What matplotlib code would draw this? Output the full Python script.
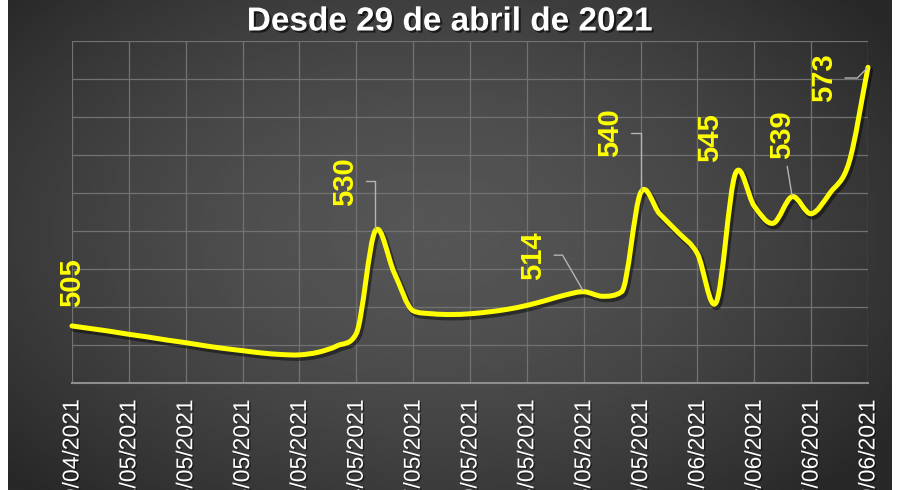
import numpy as np
import pandas as pd
import matplotlib
matplotlib.use('Agg')
import matplotlib.pyplot as plt
import matplotlib.dates as mdates
import matplotlib.patheffects as pe
from matplotlib.path import Path
from matplotlib.patches import PathPatch
from matplotlib.transforms import ScaledTranslation

plt.rcParams['font.family'] = ['Liberation Sans', 'DejaVu Sans']

# daily values, 29/04/2021 .. 10/06/2021
fechas = pd.date_range('2021-04-29', '2021-06-10', freq='D')
precio = [505, 504.3, 503.6, 502.8, 502.1, 501.3, 500.6, 499.8, 499.1, 498.5,
          497.9, 497.5, 497.4, 498.1, 499.8, 503, 530, 519, 509, 508.2,
          508, 508.2, 508.7, 509.4, 510.4, 511.7, 513.1, 514, 512.8, 514,
          540, 534.5, 529.5, 524, 511.3, 545, 536.5, 532, 539, 534.5,
          540, 548, 573]

# labelled points
fechas_etiq = ['2021-04-29', '2021-05-15', '2021-05-26', '2021-05-29',
               '2021-06-03', '2021-06-06', '2021-06-10']

ticks_x = ['2021-04-29', '2021-05-02', '2021-05-05', '2021-05-08', '2021-05-11',
           '2021-05-14', '2021-05-17', '2021-05-20', '2021-05-23', '2021-05-26',
           '2021-05-29', '2021-06-01', '2021-06-04', '2021-06-07', '2021-06-10']
etiquetas_x = ['29/04/2021', '02/05/2021', '05/05/2021', '08/05/2021', '11/05/2021',
               '14/05/2021', '17/05/2021', '20/05/2021', '23/05/2021', '26/05/2021',
               '29/05/2021', '01/06/2021', '04/06/2021', '07/06/2021', '10/06/2021']

titulo = 'Desde 29 de abril de 2021'


def curva_suave(x, y):
    # smoothed line like the spreadsheet one: Catmull-Rom tangents,
    # limited so that rising/falling stretches do not wobble
    n = len(x)
    h = np.diff(x)
    d = np.diff(y) / h
    m = np.empty(n)
    m[1:-1] = (y[2:] - y[:-2]) / (x[2:] - x[:-2])
    m[0] = d[0]
    m[-1] = d[-1]
    for k in range(n):
        for j in (k - 1, k):
            if 0 <= j < n - 1 and m[k] * d[j] > 0 and abs(m[k]) > 3 * abs(d[j]):
                m[k] = 3 * d[j]
    verts = [(x[0], y[0])]
    codes = [Path.MOVETO]
    for k in range(n - 1):
        verts += [(x[k] + h[k]/3, y[k] + m[k]*h[k]/3),
                  (x[k+1] - h[k]/3, y[k+1] - m[k+1]*h[k]/3),
                  (x[k+1], y[k+1])]
        codes += [Path.CURVE4] * 3
    return Path(verts, codes)


fig = plt.figure(figsize=(9, 4.9), dpi=100, facecolor='white')

# dark panel with radial gradient
bg = fig.add_axes([8/900, 0, 884/900, 1])
gx, gy = np.meshgrid(np.linspace(-1, 1, 300), np.linspace(-1, 1, 200))
r = np.sqrt(((gx + 0.05) / 1.0)**2 + ((gy + 0.05) / 1.15)**2)
grad = np.clip(0.335 - 0.12 * r**1.6, 0.16, 1)
bg.imshow(grad, cmap='gray', vmin=0, vmax=1, aspect='auto', interpolation='bilinear')
bg.axis('off')

ax = fig.add_axes([72/900, 1 - 383/490, 796/900, (383 - 40.7)/490])
ax.set_facecolor('none')

x = mdates.date2num(fechas)
y = np.array(precio, dtype=float)
curva = curva_suave(x, y)

sombra = ax.transData + ScaledTranslation(1.5/72, -2/72, fig.dpi_scale_trans)
ax.add_patch(PathPatch(curva, facecolor='none', edgecolor='black', lw=4.5, alpha=0.45,
                       transform=sombra, capstyle='round', joinstyle='round', clip_on=False))
ax.add_patch(PathPatch(curva, facecolor='none', edgecolor='#ffff00', lw=3.6,
                       capstyle='round', joinstyle='round', clip_on=False, zorder=3))

ax.set_xlim(x[0], x[-1])
ax.set_ylim(490, 580)
ax.set_yticks(np.arange(490, 581, 10))
ax.set_xticks(mdates.date2num(pd.to_datetime(ticks_x)))
ax.set_xticklabels(etiquetas_x, rotation=90, fontsize=16.5, color='white')
ax.set_yticklabels([])
ax.tick_params(length=0, pad=12)
ax.grid(True, color='#727272', lw=0.9)
ax.set_axisbelow(True)
for s in ['left', 'right', 'top']:
    ax.spines[s].set_visible(False)
ax.spines['bottom'].set_color('#8e8e8e')
ax.spines['bottom'].set_linewidth(1.5)
for t in ax.get_xticklabels():
    t.set_path_effects([pe.withSimplePatchShadow(offset=(1, -1), shadow_rgbFace='black', alpha=0.5)])

# label placement (offset points) and leader styles
desplaz = [(0, 31.5), (-21.7, 35.8), (-36.4, 26.3), (-22, 43), (-18.2, 25.7), (-7.3, 44.3), (-31.6, -7.7)]
lideres = [None, 'angle,angleA=0,angleB=90,rad=0', 'angle,angleA=0,angleB=120,rad=0',
           'angle,angleA=0,angleB=90,rad=0', None, 'arc3', 'angle,angleA=0,angleB=45,rad=0']

for f, dd, c in zip(fechas_etiq, desplaz, lideres):
    xi = mdates.date2num(pd.Timestamp(f))
    vi = precio[list(fechas).index(pd.Timestamp(f))]
    props = None
    if c is not None:
        props = dict(arrowstyle='-', color='#b4b4b4', lw=1, connectionstyle=c,
                     shrinkA=3, shrinkB=1)
    ax.annotate(str(int(vi)), xy=(xi, vi), xytext=dd, textcoords='offset points',
                rotation=90, ha='center', va='center', color='#ffff00',
                fontsize=21, fontweight='bold', arrowprops=props, zorder=4,
                annotation_clip=False)

fig.text(0.5, 1 - 22/490, titulo, ha='center', va='center', color='white',
         fontsize=24, fontweight='bold',
         path_effects=[pe.withSimplePatchShadow(offset=(1.5, -1.5), shadow_rgbFace='black', alpha=0.6)])

fig.savefig('out.png', dpi=100, facecolor=fig.get_facecolor())
